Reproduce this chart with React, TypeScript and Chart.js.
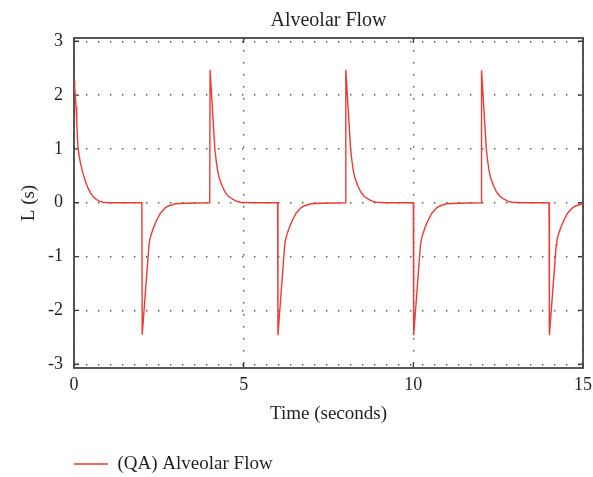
import React, { useEffect, useRef } from "react";
import { Chart, registerables } from "chart.js";

Chart.register(...registerables);

// Time (s) and alveolar flow values
const timeSeconds = [
  0, 0.02, 0.04, 0.06, 0.08, 0.1, 0.12, 0.15, 0.19, 0.24, 0.32, 0.4, 0.49, 0.57, 0.66, 0.75, 0.85, 1.0,
  2.0, 2.01, 2.21, 2.23, 2.27, 2.34, 2.44, 2.54, 2.68, 2.78, 2.98, 3.3,
  4.0, 4.01, 4.15, 4.19, 4.23, 4.28, 4.36, 4.45, 4.55, 4.66, 4.78, 4.9, 5.2,
  6.0, 6.01, 6.21, 6.23, 6.27, 6.34, 6.44, 6.54, 6.68, 6.78, 6.98, 7.3,
  8.0, 8.01, 8.15, 8.19, 8.23, 8.28, 8.36, 8.45, 8.55, 8.66, 8.78, 8.9, 9.2,
  10.0, 10.01, 10.21, 10.23, 10.27, 10.34, 10.44, 10.54, 10.68, 10.78, 10.98, 11.3,
  12.0, 12.01, 12.15, 12.19, 12.23, 12.28, 12.36, 12.45, 12.55, 12.66, 12.78, 12.9, 13.2,
  14.0, 14.01, 14.21, 14.23, 14.27, 14.34, 14.44, 14.54, 14.68, 14.78, 14.98, 15.0,
];

const alveolarFlow = [
  2.26, 2.13, 1.98, 1.78, 1.5, 1.22, 1.02, 0.88, 0.74, 0.6, 0.43, 0.29, 0.18, 0.11, 0.06, 0.03, 0.01, 0.0,
  0.0, -2.45, -0.78, -0.7, -0.6, -0.47, -0.32, -0.2, -0.1, -0.06, -0.02, -0.01,
  0.0, 2.47, 1.0, 0.78, 0.6, 0.46, 0.32, 0.2, 0.12, 0.07, 0.03, 0.01, 0.0,
  0.0, -2.46, -0.78, -0.7, -0.6, -0.47, -0.32, -0.2, -0.1, -0.06, -0.02, -0.01,
  0.0, 2.47, 1.0, 0.78, 0.6, 0.46, 0.32, 0.2, 0.12, 0.07, 0.03, 0.01, 0.0,
  0.0, -2.46, -0.78, -0.7, -0.6, -0.47, -0.32, -0.2, -0.1, -0.06, -0.02, -0.01,
  0.0, 2.46, 1.0, 0.78, 0.6, 0.46, 0.32, 0.2, 0.12, 0.07, 0.03, 0.01, 0.0,
  0.0, -2.46, -0.78, -0.7, -0.6, -0.47, -0.32, -0.2, -0.1, -0.06, -0.02, -0.02,
];

const xTickValues = [0, 5, 10, 15];
const yTickValues = [-3, -2, -1, 0, 1, 2, 3];

const chartTitle = "Alveolar Flow";
const xAxisTitle = "Time (seconds)";
const yAxisTitle = "L (s)";
const seriesLabel = "(QA) Alveolar Flow";

const FONT = "'Liberation Serif', 'Times New Roman', serif";
const TEXT = "#231f20";

const framePlugin = {
  id: "frameTicks",
  beforeDatasetsDraw(chart: any) {
    const { ctx, chartArea, scales } = chart;
    const { left, right, top, bottom } = chartArea;
    const xs = scales.x;
    const ys = scales.y;
    ctx.save();
    ctx.strokeStyle = "#3c3c3c";
    ctx.lineWidth = 1.3;
    const len = 5;
    ctx.beginPath();
    for (const v of yTickValues) {
      const py = ys.getPixelForValue(v);
      ctx.moveTo(left, py);
      ctx.lineTo(left + len, py);
      ctx.moveTo(right, py);
      ctx.lineTo(right - len, py);
    }
    for (const v of xTickValues) {
      const px = xs.getPixelForValue(v);
      ctx.moveTo(px, top);
      ctx.lineTo(px, top + len);
      ctx.moveTo(px, bottom);
      ctx.lineTo(px, bottom - len);
    }
    ctx.stroke();
    ctx.lineWidth = 1.8;
    ctx.strokeStyle = "#444444";
    ctx.strokeRect(left, top, right - left, bottom - top);
    ctx.restore();
  },
};

export default function App() {
  const canvasRef = useRef<HTMLCanvasElement | null>(null);

  useEffect(() => {
    const canvas = canvasRef.current;
    if (!canvas) return;
    const points = timeSeconds.map((t, i) => ({ x: t, y: alveolarFlow[i] }));
    const chart = new Chart(canvas, {
      type: "line",
      data: {
        datasets: [
          {
            label: seriesLabel,
            data: points,
            borderColor: "#ee3a33",
            backgroundColor: "#ee3a33",
            borderWidth: 1.4,
            pointRadius: 0,
            tension: 0,
            fill: false,
          },
        ],
      },
      options: {
        responsive: false,
        animation: false,
        devicePixelRatio: 1,
        layout: { padding: { top: 0, left: 0, right: 10, bottom: -6.5 } },
        scales: {
          x: {
            type: "linear",
            min: 0,
            max: 15,
            afterBuildTicks: (s: any) => {
              s.ticks = xTickValues.map((value) => ({ value }));
            },
            afterFit: (s: any) => {
              s.height = 86.5;
              s.paddingLeft = 0;
              s.paddingRight = 0;
            },
            grid: { color: "#555555", lineWidth: 1.4, drawTicks: false },
            border: { display: false, dash: [1.4, 10.6] },
            ticks: {
              font: { family: FONT, size: 18 },
              color: TEXT,
              padding: 6,
              maxRotation: 0,
              autoSkip: false,
            },
            title: {
              display: true,
              text: xAxisTitle,
              font: { family: FONT, size: 19 },
              color: TEXT,
              padding: { top: 0, bottom: 28.6 },
            },
          },
          y: {
            type: "linear",
            min: -3.07,
            max: 3.06,
            afterBuildTicks: (s: any) => {
              s.ticks = yTickValues.map((value) => ({ value }));
            },
            afterFit: (s: any) => {
              s.width = 74;
            },
            grid: { color: "#555555", lineWidth: 1.4, drawTicks: false },
            border: { display: false, dash: [1.4, 10.6] },
            ticks: {
              font: { family: FONT, size: 18 },
              color: TEXT,
              padding: 11,
              autoSkip: false,
            },
            title: {
              display: true,
              text: yAxisTitle,
              font: { family: FONT, size: 19 },
              color: TEXT,
              padding: { top: 18, bottom: 0 },
            },
          },
        },
        plugins: {
          title: {
            display: true,
            text: chartTitle,
            fullSize: false,
            font: { family: FONT, size: 20, weight: "normal" },
            color: TEXT,
            padding: { top: 9, bottom: 5 },
          },
          legend: {
            display: true,
            position: "bottom",
            align: "start",
            fullSize: false,
            labels: {
              boxWidth: 34,
              boxHeight: 0,
              padding: 0,
              font: { family: FONT, size: 19 },
              color: TEXT,
            },
          },
          tooltip: { enabled: false },
        },
      },
      plugins: [framePlugin],
    } as any);
    return () => chart.destroy();
  }, []);

  return (
    <div style={{ position: "absolute", left: 0, top: 0, width: 593, height: 477 }}>
      <canvas
        ref={canvasRef}
        width={593}
        height={477}
        style={{ display: "block", width: 593, height: 477 }}
      />
    </div>
  );
}
